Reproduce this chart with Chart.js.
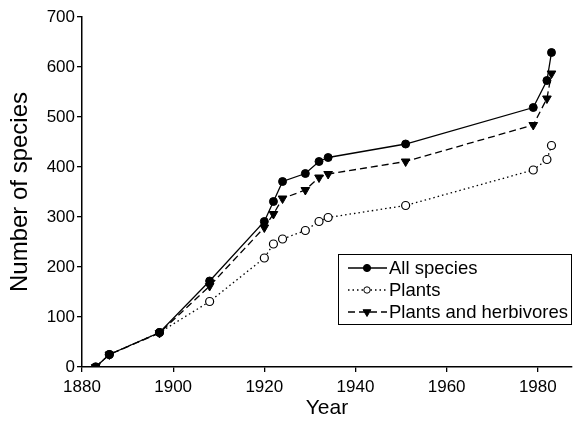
<!DOCTYPE html>
<html>
<head>
<meta charset="utf-8">
<script src="https://cdn.jsdelivr.net/npm/chart.js@4"></script>
<style>
  html, body { margin: 0; padding: 0; background: #fff; overflow: hidden; }
  #wrap { width: 578px; height: 421px; }
</style>
</head>
<body>
<div id="wrap"><canvas id="speciesChart"></canvas></div>
<script>
// data
var years = [1883, 1886, 1897, 1908, 1920, 1922, 1924, 1929, 1932, 1934, 1951, 1979, 1982, 1983];
var allSpecies = [0, 25, 69, 172, 291, 331, 371, 387, 411, 419, 446, 519, 573, 629];
var plants = [0, 25, 69, 131, 218, 246, 256, 273, 291, 299, 323, 394, 415, 443];
var plantsHerbivores = [0, 25, 68, 162, 279, 306, 337, 354, 379, 386, 411, 484, 537, 587];
var xTicks = [1880, 1900, 1920, 1940, 1960, 1980];
var yTicks = [0, 100, 200, 300, 400, 500, 600, 700];

var FONT = "'Liberation Sans', Arial, Helvetica, sans-serif";

function pairs(ys) {
    return years.map(function (x, i) { return { x: x, y: ys[i] }; });
}

// legend drawn inside the plot, bottom right, with line + marker samples
var boxLegend = {
    id: 'boxLegend',
    afterDraw: function (chart) {
        var ctx = chart.ctx;
        var right = 572;
        var left = right - 234;
        var top = 254, rowH = 22;
        ctx.save();
        ctx.strokeStyle = '#000';
        ctx.lineWidth = 1;
        ctx.strokeRect(left + 0.5, top + 0.5, right - left - 1, 70);
        ctx.font = '18.5px ' + FONT;
        ctx.textBaseline = 'middle';
        ctx.fillStyle = '#000';
        chart.data.datasets.forEach(function (ds, i) {
            var y = top + 14 + i * rowH;
            ctx.beginPath();
            ctx.setLineDash(ds.borderDash || []);
            ctx.lineWidth = ds.borderWidth;
            ctx.moveTo(left + 10, y);
            ctx.lineTo(left + 49, y);
            ctx.stroke();
            ctx.setLineDash([]);
            var cx = left + 29;
            ctx.beginPath();
            if (ds.pointStyle === 'triangle') {
                var r = 4.5;
                ctx.moveTo(cx - r * 0.87, y - r * 0.5);
                ctx.lineTo(cx + r * 0.87, y - r * 0.5);
                ctx.lineTo(cx, y + r);
                ctx.closePath();
            } else {
                ctx.arc(cx, y, ds.label === 'Plants' ? 3.2 : 3.6, 0, Math.PI * 2);
            }
            ctx.fillStyle = ds.pointBackgroundColor;
            ctx.fill();
            ctx.lineWidth = 1;
            ctx.stroke();
            ctx.fillStyle = '#000';
            ctx.fillText(ds.label, left + 51, y + 1);
        });
        ctx.restore();
    }
};

new Chart(document.getElementById('speciesChart'), {
    type: 'line',
    data: {
        datasets: [{
            label: 'All species',
            data: pairs(allSpecies),
            borderColor: '#000',
            borderWidth: 1.3,
            pointStyle: 'circle',
            pointRadius: 4,
            pointBackgroundColor: '#000',
            pointBorderColor: '#000',
            pointBorderWidth: 1
        }, {
            label: 'Plants',
            data: pairs(plants),
            borderColor: '#000',
            borderWidth: 1.3,
            borderDash: [1.5, 3],
            pointStyle: 'circle',
            pointRadius: 4,
            pointBackgroundColor: '#fff',
            pointBorderColor: '#000',
            pointBorderWidth: 1.2
        }, {
            label: 'Plants and herbivores',
            data: pairs(plantsHerbivores),
            borderColor: '#000',
            borderWidth: 1.3,
            borderDash: [7, 4],
            pointStyle: 'triangle',
            pointRotation: 180,
            pointRadius: 5,
            pointBackgroundColor: '#000',
            pointBorderColor: '#000',
            pointBorderWidth: 1
        }]
    },
    options: {
        responsive: true,
        maintainAspectRatio: false,
        animation: false,
        layout: { padding: { top: 17, right: 0, left: 0, bottom: 0 } },
        plugins: {
            legend: { display: false },
            tooltip: { enabled: false }
        },
        scales: {
            x: {
                type: 'linear',
                min: 1880,
                max: 1987.5,
                afterBuildTicks: function (axis) {
                    axis.ticks = xTicks.map(function (v) { return { value: v }; });
                },
                afterFit: function (axis) {
                    axis.height = 54;
                    axis.paddingLeft = 0;
                    axis.paddingRight = 0;
                },
                grid: { drawOnChartArea: false, drawTicks: true, tickLength: 5, color: '#000', lineWidth: 1.3 },
                border: { display: true, color: '#000', width: 1.5 },
                ticks: {
                    color: '#000',
                    padding: 5,
                    maxRotation: 0,
                    font: { family: FONT, size: 17 },
                    callback: function (v) { return String(v); }
                },
                title: {
                    display: true,
                    text: 'Year',
                    color: '#000',
                    padding: 0,
                    font: { family: FONT, size: 21 }
                }
            },
            y: {
                min: 0,
                max: 700,
                afterBuildTicks: function (axis) {
                    axis.ticks = yTicks.map(function (v) { return { value: v }; });
                },
                afterFit: function (axis) { axis.width = 82; },
                grid: { drawOnChartArea: false, drawTicks: true, tickLength: 5, color: '#000', lineWidth: 1.3 },
                border: { display: true, color: '#000', width: 1.5 },
                ticks: {
                    color: '#000',
                    padding: 2,
                    font: { family: FONT, size: 17 },
                    callback: function (v) { return String(v); }
                },
                title: {
                    display: true,
                    text: 'Number of species',
                    color: '#000',
                    padding: { top: 6, bottom: 0 },
                    font: { family: FONT, size: 24 }
                }
            }
        }
    },
    plugins: [boxLegend]
});
</script>
</body>
</html>
